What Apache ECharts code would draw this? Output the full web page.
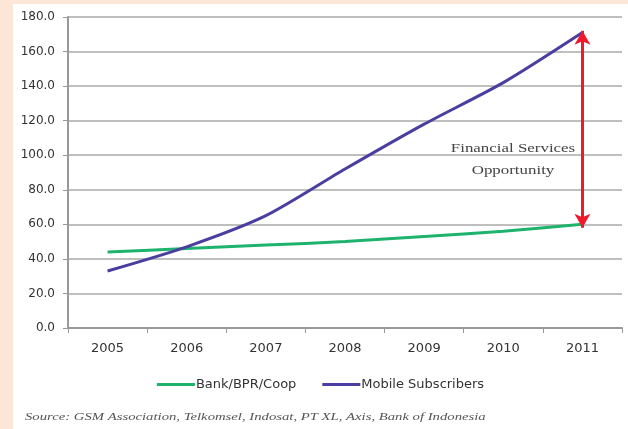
<!DOCTYPE html>
<html><head><meta charset="utf-8">
<script src="https://cdn.jsdelivr.net/npm/echarts@6/dist/echarts.min.js"></script>
<style>html,body{margin:0;padding:0;background:#fce6d8;}#c{position:absolute;left:13px;top:4px;width:615px;height:425px;background:#fff;}</style>
</head><body><div id="c"></div>
<script>
const years = ['2005','2006','2007','2008','2009','2010','2011'];
const bank = [44, 46, 48, 50, 53, 56, 60];
const mobile = [33, 47, 65, 92, 118, 142, 171];
const yTicks = [0, 20, 40, 60, 80, 100, 120, 140, 160, 180];
const annotation = 'Financial Services\nOpportunity';
const source = 'Source: GSM Association, Telkomsel, Indosat, PT XL, Axis, Bank of Indonesia';

const chart = echarts.init(document.getElementById('c'));
chart.setOption({
  animation: false,
  backgroundColor: '#fff',
  grid: {left: 55, right: 6, top: 13, bottom: 101},
  xAxis: {
    type: 'category', data: years, boundaryGap: true,
    axisLine: {lineStyle: {color: '#999', width: 2}},
    axisTick: {show: true, alignWithLabel: false, lineStyle: {color: '#999'}},
    axisLabel: {color: '#333', fontSize: 13, fontFamily: 'DejaVu Sans', margin: 14}
  },
  yAxis: {
    type: 'value', min: yTicks[0], max: yTicks[yTicks.length-1], interval: 20,
    axisLine: {show: true, lineStyle: {color: '#999', width: 2}},
    axisTick: {show: true, lineStyle: {color: '#999'}},
    axisLabel: {color: '#333', fontSize: 12, fontFamily: 'DejaVu Sans', formatter: v => v.toFixed(1), margin: 13},
    splitLine: {lineStyle: {color: '#aaa', width: 1.5}}
  },
  legend: {
    bottom: 33, left: 'center', itemWidth: 38, itemHeight: 3, itemGap: 26,
    icon: 'rect',
    textStyle: {color: '#333', fontSize: 13, fontFamily: 'DejaVu Sans', padding: [0,0,0,-4]},
    data: ['Bank/BPR/Coop', 'Mobile Subscribers']
  },
  series: [
    {name: 'Bank/BPR/Coop', type: 'line', data: bank, smooth: 0.2, showSymbol: false,
     lineStyle: {color: '#1db36c', width: 3}, itemStyle: {color: '#1db36c'}},
    {name: 'Mobile Subscribers', type: 'line', data: mobile, smooth: 0.25, showSymbol: false,
     lineStyle: {color: '#4a3ea0', width: 3}, itemStyle: {color: '#4a3ea0'},
     markLine: {
       silent: true, symbol: ['arrow', 'arrow'], symbolSize: [12, 14],
       label: {show: false},
       lineStyle: {color: '#f0182a', width: 3, type: 'solid'},
       data: [[{coord: ['2011', 172]}, {coord: ['2011', 58]}]]
     }}
  ],
  graphic: [
    {type: 'text', x: 500, y: 134, scaleX: 1.3, style: {text: annotation, font: '13px "Liberation Serif", serif', fill: '#444', lineHeight: 22, align: 'center'}},
    {type: 'text', x: 12, y: 408, scaleX: 1.4, style: {text: source, font: 'italic 10.5px "Liberation Serif", serif', fill: '#555'}}
  ]
});
</script></body></html>
